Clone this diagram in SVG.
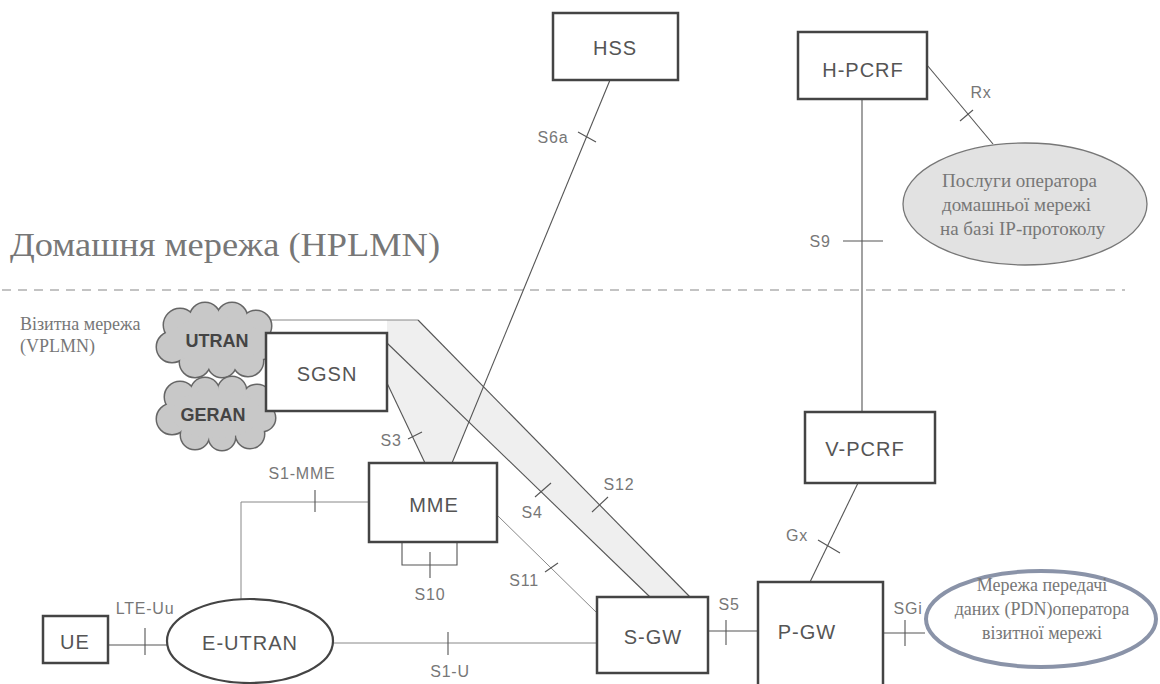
<svg xmlns="http://www.w3.org/2000/svg" width="1160" height="684" viewBox="0 0 1160 684">
<style>
.box{fill:#fff;stroke:#444;stroke-width:2.5}
.ln{fill:none;stroke:#555;stroke-width:1.1}
.lt{fill:none;stroke:#888;stroke-width:1}
.tick{stroke:#555;stroke-width:1.1}
.nt{font-family:"Liberation Sans",Arial,sans-serif;font-size:20px;letter-spacing:1px;fill:#555;text-anchor:middle;dominant-baseline:central}
.it{font-family:"Liberation Sans",Arial,sans-serif;font-size:16px;letter-spacing:0.8px;fill:#777;text-anchor:middle;dominant-baseline:central}
.st{font-family:"Liberation Serif","Times New Roman",serif;fill:#777}
.band{fill:#efefef;stroke:none}
.cl{fill:#c8c8c8}
.clo{fill:#c8c8c8;stroke:#666;stroke-width:3}
.ct{font-family:"Liberation Sans",Arial,sans-serif;font-size:18px;font-weight:bold;fill:#444;text-anchor:middle;dominant-baseline:central}
</style>

<text class="st" x="10" y="256" font-size="33" fill="#888" textLength="430" lengthAdjust="spacingAndGlyphs">Домашня мережа (HPLMN)</text>
<line x1="2" y1="290" x2="1125" y2="290" stroke="#888" stroke-width="1.2" stroke-dasharray="9,7"/>
<text class="st" x="20" y="330" font-size="18" fill="#999">Візитна мережа</text>
<text class="st" x="20" y="352" font-size="18" fill="#999">(VPLMN)</text>

<g id="connectors">
  <polygon class="band" points="270,320 418,320 690,597 650,597 387,343 387,320"/>
  <polygon class="band" points="387,343 469,421 452,463 425,463 387,383"/>
  <line class="lt" x1="270" y1="320" x2="418" y2="320"/>
  <line class="ln" x1="418" y1="320" x2="690" y2="597"/>
  <line class="ln" x1="387" y1="343" x2="650" y2="597"/>
  <line class="tick" x1="535" y1="497" x2="551" y2="483"/>
  <text class="it" x="532" y="512">S4</text>
  <line class="tick" x1="592" y1="512" x2="608" y2="497"/>
  <text class="it" x="619" y="484">S12</text>

  <line class="ln" x1="610" y1="80" x2="452" y2="463"/>
  <line class="tick" x1="578" y1="132" x2="596" y2="142"/>
  <text class="it" x="553" y="137">S6a</text>

  <line class="ln" x1="387" y1="383" x2="425" y2="463"/>
  <line class="tick" x1="408" y1="439" x2="422" y2="432"/>
  <text class="it" x="391" y="440">S3</text>

  <polyline class="lt" points="241,600 241,502 369,502"/>
  <line class="tick" x1="315" y1="490" x2="315" y2="512"/>
  <text class="it" x="302" y="473">S1-MME</text>

  <polyline class="ln" points="402,542 402,565 457,565 457,542"/>
  <line class="tick" x1="430" y1="552" x2="430" y2="578"/>
  <text class="it" x="430" y="594">S10</text>

  <line class="lt" x1="497" y1="515" x2="597" y2="613"/>
  <line class="tick" x1="545" y1="572" x2="558" y2="563"/>
  <text class="it" x="524" y="580">S11</text>

  <line class="lt" x1="333" y1="643" x2="597" y2="643"/>
  <line class="tick" x1="448" y1="632" x2="448" y2="655"/>
  <text class="it" x="450" y="671">S1-U</text>

  <line class="ln" x1="108" y1="645" x2="167" y2="645"/>
  <line class="tick" x1="145" y1="628" x2="145" y2="655"/>
  <text class="it" x="145" y="608">LTE-Uu</text>

  <line class="ln" x1="708" y1="631" x2="758" y2="631"/>
  <line class="tick" x1="726" y1="620" x2="726" y2="645"/>
  <text class="it" x="729" y="604">S5</text>

  <line class="ln" x1="883" y1="633" x2="925" y2="633"/>
  <line class="tick" x1="905" y1="620" x2="905" y2="646"/>
  <text class="it" x="908" y="608">SGi</text>

  <line class="ln" x1="858" y1="483" x2="810" y2="582"/>
  <line class="tick" x1="818" y1="540" x2="840" y2="553"/>
  <text class="it" x="797" y="535">Gx</text>

  <line class="ln" x1="862" y1="99" x2="862" y2="412"/>
  <line class="tick" x1="843" y1="241" x2="883" y2="241"/>
  <text class="it" x="820" y="241">S9</text>

  <line class="ln" x1="927" y1="65" x2="993" y2="144"/>
  <line class="tick" x1="960" y1="121" x2="973" y2="110"/>
  <text class="it" x="981" y="92">Rx</text>
</g>

<g id="utran">
  <g class="clo">
    <circle cx="180" cy="325" r="16"/><circle cx="205" cy="318" r="15"/><circle cx="232" cy="318" r="15"/>
    <circle cx="256" cy="326" r="15"/><circle cx="261" cy="345" r="14"/><circle cx="248" cy="361" r="15"/>
    <circle cx="222" cy="363" r="14"/><circle cx="195" cy="362" r="15"/><circle cx="172" cy="347" r="15"/>
  </g>
  <g class="cl">
    <circle cx="180" cy="325" r="16"/><circle cx="205" cy="318" r="15"/><circle cx="232" cy="318" r="15"/>
    <circle cx="256" cy="326" r="15"/><circle cx="261" cy="345" r="14"/><circle cx="248" cy="361" r="15"/>
    <circle cx="222" cy="363" r="14"/><circle cx="195" cy="362" r="15"/><circle cx="172" cy="347" r="15"/>
    <ellipse cx="216" cy="341" rx="45" ry="25"/>
  </g>
  <text class="ct" x="217" y="341">UTRAN</text>
</g>

<g id="geran">
  <g class="clo">
    <circle cx="180" cy="397" r="15"/><circle cx="205" cy="392" r="14"/><circle cx="232" cy="391" r="14"/>
    <circle cx="257" cy="400" r="15"/><circle cx="262" cy="418" r="13"/><circle cx="250" cy="434" r="14"/>
    <circle cx="222" cy="437" r="13"/><circle cx="195" cy="435" r="14"/><circle cx="172" cy="419" r="15"/>
  </g>
  <g class="cl">
    <circle cx="180" cy="397" r="15"/><circle cx="205" cy="392" r="14"/><circle cx="232" cy="391" r="14"/>
    <circle cx="257" cy="400" r="15"/><circle cx="262" cy="418" r="13"/><circle cx="250" cy="434" r="14"/>
    <circle cx="222" cy="437" r="13"/><circle cx="195" cy="435" r="14"/><circle cx="172" cy="419" r="15"/>
    <ellipse cx="216" cy="414" rx="45" ry="24"/>
  </g>
  <text class="ct" x="213" y="415">GERAN</text>
</g>

<g id="hss"><rect class="box" x="553" y="13" width="125" height="67"/><text class="nt" x="615" y="48">HSS</text></g>
<g id="hpcrf"><rect class="box" x="798" y="32" width="129" height="67"/><text class="nt" x="863" y="70">H-PCRF</text></g>
<g id="services">
  <ellipse cx="1025" cy="204" rx="122" ry="61" fill="#e2e2e2" stroke="#777" stroke-width="1.3"/>
  <text class="st" font-size="19" x="942" y="187">Послуги оператора</text>
  <text class="st" font-size="19" x="942" y="211">домашньої мережі</text>
  <text class="st" font-size="19" x="940" y="235">на базі IP-протоколу</text>
</g>
<g id="sgsn"><rect class="box" x="266" y="333" width="121" height="78"/><text class="nt" x="327" y="374">SGSN</text></g>
<g id="mme"><rect class="box" x="369" y="463" width="128" height="79"/><text class="nt" x="434" y="505">MME</text></g>
<g id="vpcrf"><rect class="box" x="805" y="412" width="130" height="71"/><text class="nt" x="865" y="449">V-PCRF</text></g>
<g id="ue"><rect class="box" x="43" y="616" width="65" height="47"/><text class="nt" x="75" y="642">UE</text></g>
<g id="eutran"><ellipse cx="250" cy="641" rx="83" ry="42" fill="#fff" stroke="#444" stroke-width="2.2"/><text class="nt" x="250" y="643">E-UTRAN</text></g>
<g id="sgw"><rect class="box" x="597" y="597" width="111" height="76"/><text class="nt" x="653" y="637">S-GW</text></g>
<g id="pgw"><rect class="box" x="758" y="582" width="125" height="110"/><text class="nt" x="807" y="632">P-GW</text></g>
<g id="pdn">
  <ellipse cx="1041" cy="619" rx="115" ry="48" fill="#fff" stroke="#8a93a8" stroke-width="4"/>
  <text class="st" font-size="18" x="1042" y="591" text-anchor="middle">Мережа передачі</text>
  <text class="st" font-size="18" x="1042" y="615" text-anchor="middle">даних (PDN)оператора</text>
  <text class="st" font-size="18" x="1042" y="639" text-anchor="middle">візитної мережі</text>
</g>
</svg>
